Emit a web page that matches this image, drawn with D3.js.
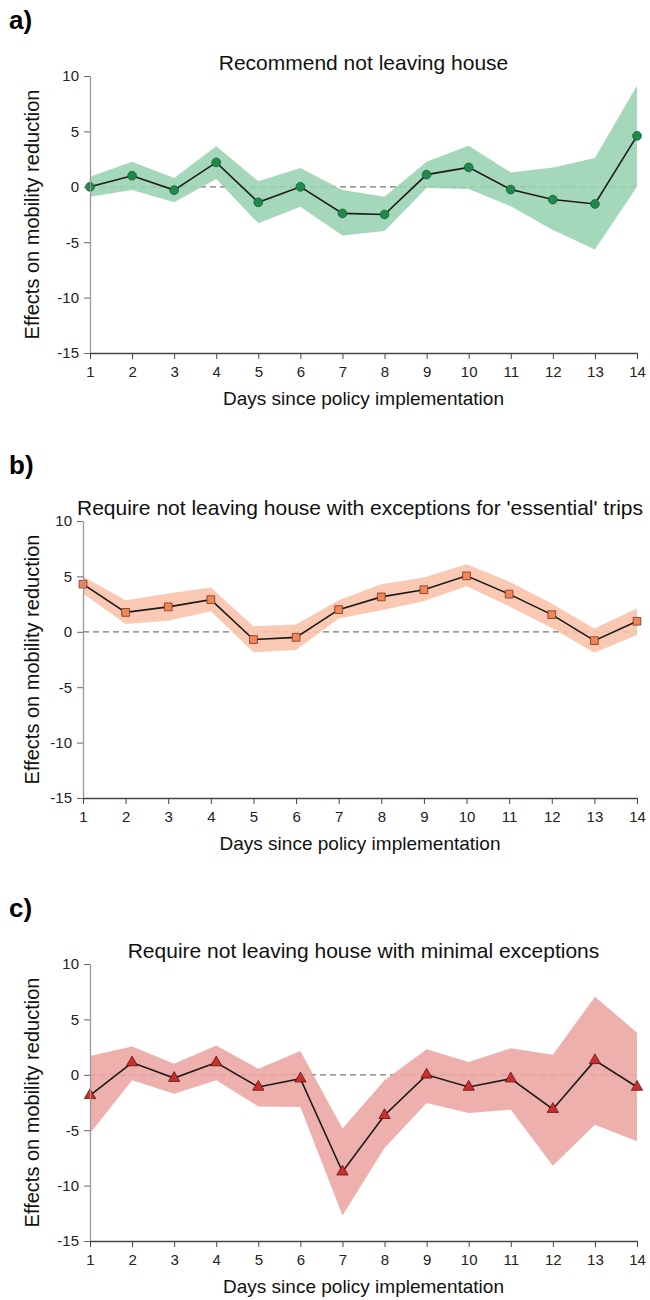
<!DOCTYPE html>
<html>
<head>
<meta charset="utf-8">
<script src="https://cdn.jsdelivr.net/npm/d3@7"></script>
<style>
  body { margin: 0; background: #fff; }
  svg text { font-family: 'Liberation Sans', Arial, sans-serif; }
</style>
</head>
<body>
<div id="hook-mobility"></div>
<script>
'use strict';

// days since policy implementation
var days = [1, 2, 3, 4, 5, 6, 7, 8, 9, 10, 11, 12, 13, 14];
var yTicks = [10, 5, 0, -5, -10, -15];

// a) recommend not leaving house
var recEst = [0, 1.0, -0.3, 2.2, -1.4, 0, -2.4, -2.5, 1.1, 1.75, -0.25, -1.15, -1.55, 4.6];
var recHi  = [0.9, 2.25, 0.8, 3.65, 0.5, 1.7, -0.3, -0.9, 2.25, 3.7, 1.3, 1.75, 2.6, 9.15];
var recLo  = [-0.9, -0.3, -1.4, 0.7, -3.3, -1.8, -4.4, -4.0, -0.1, -0.2, -1.75, -3.9, -5.65, 0];

// b) require, with exceptions for essential trips
var essEst = [4.3, 1.75, 2.25, 2.9, -0.7, -0.5, 2.0, 3.15, 3.8, 5.05, 3.4, 1.55, -0.8, 0.95];
var essHi  = [5.0, 2.85, 3.45, 4.0, 0.5, 0.65, 2.85, 4.3, 4.9, 6.1, 4.55, 2.55, 0.3, 2.1];
var essLo  = [3.45, 0.7, 1.0, 1.85, -1.85, -1.65, 1.2, 1.95, 2.75, 4.1, 2.3, 0.35, -1.9, -0.3];

// c) require, minimal exceptions
var minEst = [-1.85, 1.1, -0.3, 1.1, -1.1, -0.35, -8.75, -3.65, 0, -1.1, -0.35, -3.1, 1.3, -1.1];
var minHi  = [1.7, 2.55, 1.0, 2.65, 0.55, 2.15, -4.85, -0.5, 2.3, 1.15, 2.4, 1.8, 7.05, 3.8];
var minLo  = [-5.3, -0.5, -1.7, -0.5, -2.85, -2.9, -12.7, -6.6, -2.55, -3.45, -3.15, -8.2, -4.5, -6.0];

(function() {

var width = 650,
  height = 1300;

var svg = d3.select('#hook-mobility')
  .append('svg')
  .attr('width', width)
  .attr('height', height);

var panels = [
  { label: 'a)', title: 'Recommend not leaving house', est: recEst, lo: recLo, hi: recHi,
    top: 76, left: 90, band: '#98d2b0', dot: '#1f8a4c', dotStroke: '#125c30', shape: d3.symbolCircle, size: 60 },
  { label: 'b)', title: "Require not leaving house with exceptions for 'essential' trips", est: essEst, lo: essLo, hi: essHi,
    top: 521, left: 83, band: '#f9c1a9', dot: '#f0875a', dotStroke: '#7a3418', shape: d3.symbolSquare, size: 60 },
  { label: 'c)', title: 'Require not leaving house with minimal exceptions', est: minEst, lo: minLo, hi: minHi,
    top: 964, left: 90, band: '#eca5a2', dot: '#c9302c', dotStroke: '#5e1212', shape: d3.symbolTriangle, size: 55 }
];

var right = 637,
  plotH = 277;

function drawPanel(p) {
  var g = svg.append('g');
  var bottom = p.top + plotH;

  var x = d3.scaleLinear().domain([1, 14]).range([p.left, right]);
  var y = d3.scaleLinear().domain([-15, 10]).range([bottom, p.top]);

  // panel letter
  g.append('text')
    .attr('x', 9)
    .attr('y', p.top - 47)
    .style('font-size', '26px')
    .style('font-weight', 'bold')
    .text(p.label);

  g.append('text')
    .attr('x', (p.left + right) / 2)
    .attr('y', p.top - 6)
    .attr('text-anchor', 'middle')
    .style('font-size', '21px')
    .style('fill', '#111')
    .text(p.title);

  // zero reference line
  g.append('line')
    .attr('x1', x(1))
    .attr('x2', x(14))
    .attr('y1', y(0))
    .attr('y2', y(0))
    .style('stroke', '#777')
    .style('stroke-width', 1.2)
    .style('stroke-dasharray', '6,4');

  var rows = days.map(function(d, i) {
    return { day: d, est: p.est[i], lo: p.lo[i], hi: p.hi[i] };
  });

  g.append('path')
    .datum(rows)
    .attr('d', d3.area()
      .x(function(d) { return x(d.day); })
      .y0(function(d) { return y(d.lo); })
      .y1(function(d) { return y(d.hi); }))
    .style('fill', p.band)
    .style('fill-opacity', 0.88);

  g.append('path')
    .datum(rows)
    .attr('d', d3.line()
      .x(function(d) { return x(d.day); })
      .y(function(d) { return y(d.est); }))
    .style('fill', 'none')
    .style('stroke', '#1a1a1a')
    .style('stroke-width', 1.6);

  g.selectAll('.mark')
    .data(rows)
    .enter()
    .append('path')
    .attr('class', 'mark')
    .attr('transform', function(d) { return 'translate(' + x(d.day) + ',' + y(d.est) + ')'; })
    .attr('d', d3.symbol().type(p.shape).size(p.size))
    .style('fill', p.dot)
    .style('stroke', p.dotStroke)
    .style('stroke-width', 0.8);

  // axes
  var yAxis = g.append('g')
    .attr('transform', 'translate(' + p.left + ',0)')
    .call(d3.axisLeft(y)
      .tickValues(yTicks)
      .tickSize(6)
      .tickSizeOuter(0)
      .tickPadding(5)
      .tickFormat(function(d) { return String(d); }));
  yAxis.select('.domain').style('stroke', '#999').style('stroke-width', 1.3);
  yAxis.selectAll('.tick line').style('stroke', '#666');
  yAxis.selectAll('.tick text')
    .style('font-size', '15px')
    .style('fill', '#222')
    .style('font-family', "'Liberation Sans', Arial, sans-serif");

  var xAxis = g.append('g')
    .attr('transform', 'translate(0,' + bottom + ')')
    .call(d3.axisBottom(x)
      .tickValues(days)
      .tickSize(6)
      .tickSizeOuter(0)
      .tickPadding(7)
      .tickFormat(function(d) { return String(d); }));
  xAxis.select('.domain').style('stroke', '#444').style('stroke-width', 1.3);
  xAxis.selectAll('.tick line').style('stroke', '#444');
  xAxis.selectAll('.tick text')
    .style('font-size', '15px')
    .style('fill', '#222')
    .style('font-family', "'Liberation Sans', Arial, sans-serif");

  g.append('text')
    .attr('x', (p.left + right) / 2)
    .attr('y', bottom + 52)
    .attr('text-anchor', 'middle')
    .style('font-size', '19px')
    .style('fill', '#111')
    .text('Days since policy implementation');

  g.append('text')
    .attr('transform', 'translate(39,' + (p.top + plotH / 2) + ') rotate(-90)')
    .attr('text-anchor', 'middle')
    .style('font-size', '20px')
    .style('fill', '#111')
    .text('Effects on mobility reduction');
}

panels.forEach(drawPanel);

}());
</script>
</body>
</html>
